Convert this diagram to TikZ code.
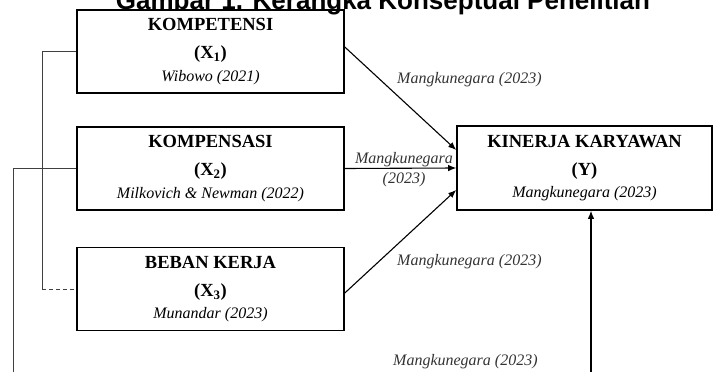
\documentclass[tikz,border=0pt]{standalone}
\usepackage{fontspec}
\setmainfont{Liberation Serif}
\newfontfamily\titlefont{Liberation Sans}
\usetikzlibrary{arrows.meta,positioning}

\begin{document}
\begin{tikzpicture}[
  x=1pt,y=-1pt,
  var/.style={rectangle,draw,line width=1.6pt,minimum width=267pt,minimum height=83pt,
    align=center,inner sep=0pt,font=\fontsize{18.5}{28.4}\selectfont},
  dep/.style={var,minimum width=255pt,minimum height=84pt},
  ref/.style={font=\fontsize{16}{20}\selectfont\itshape,text=black!80,inner sep=0pt},
  link/.style={line width=0.9pt,black!75},
  arr/.style={line width=1.1pt,-{Latex[length=8pt,width=6.5pt]}},
]
\useasboundingbox (0,0) rectangle (713,372);

% title, cut by the top edge
\node [anchor=base,font=\titlefont\bfseries\fontsize{26}{30}\selectfont] (title) at (383,9.5)
  {Gambar 1. Kerangka Konseptual Penelitian};

% variables
\node [var] (x1) at (210.5,51.5)
  {\bfseries KOMPETENSI\\ \bfseries (X\textsubscript{1})\\[-6pt] \itshape\fontsize{16}{22}\selectfont Wibowo (2021)};
\node [var] (x2) at (210.5,168.5)
  {\bfseries KOMPENSASI\\ \bfseries (X\textsubscript{2})\\[-6pt] \itshape\fontsize{16}{22}\selectfont Milkovich \& Newman (2022)};
\node [var] (x3) at (210.5,289)
  {\bfseries BEBAN KERJA\\ \bfseries (X\textsubscript{3})\\[-6pt] \itshape\fontsize{16}{22}\selectfont Munandar (2023)};
\node [dep] (y) at (584.5,168)
  {\bfseries KINERJA KARYAWAN\\ \bfseries (Y)\\[-6pt] \itshape\fontsize{16}{22}\selectfont Mangkunegara (2023)};

% sources on the arrows
\node [ref,anchor=west] (r1) at (397,80) {Mangkunegara (2023)};
\node [ref,align=center] (r2) at (404,170) {Mangkunegara\\ (2023)};
\node [ref,anchor=west] (r3) at (397,262) {Mangkunegara (2023)};
\node [ref,anchor=west] (r4) at (393,362) {Mangkunegara (2023)};

% free ends
\coordinate (lx) at (42,0);
\coordinate (b2) at (13,380);
\coordinate (by) at (591,380);

% arrows into Y
\draw [arr] ([yshift=4.5pt]x1.east) -- ([yshift=18pt]y.west);
\draw [arr] (x2.east) -- (y.west);
\draw [arr] ([yshift=-4pt]x3.east) -- ([yshift=-22pt]y.west);
\draw [arr] (by) -- (by |- y.south);

% lines on the left
\draw [link] (x1.west) -| (lx |- x3.west);
\draw [link,dashed,dash pattern=on 4pt off 3pt] (lx |- x3.west) -- (x3.west);
\draw [link] (x2.west) -| (b2);
\end{tikzpicture}
\end{document}
